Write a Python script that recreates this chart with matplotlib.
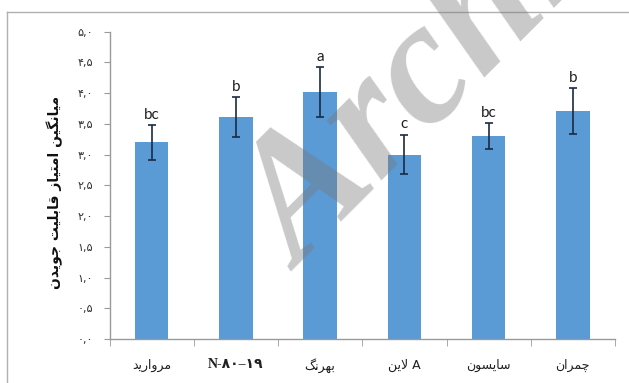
import matplotlib
matplotlib.use('Agg')
from matplotlib import pyplot as plt
from matplotlib.lines import Line2D
import numpy as np

# data
categories = ['مروارید', 'N-۸۰–۱۹', 'بهرنگ', 'لاین A', 'سایسون', 'چمران']
means = [3.20, 3.61, 4.02, 3.00, 3.30, 3.71]
errors = [0.28, 0.32, 0.40, 0.32, 0.21, 0.37]
letters = ['bc', 'b', 'a', 'c', 'bc', 'b']
yticks = [0.0, 0.5, 1.0, 1.5, 2.0, 2.5, 3.0, 3.5, 4.0, 4.5, 5.0]
ytick_labels = ['۰,۰', '۰,۵', '۱,۰', '۱,۵', '۲,۰', '۲,۵', '۳,۰', '۳,۵', '۴,۰', '۴,۵', '۵,۰']
ylabel = 'میانگین امتیاز قابلیت جویدن'

# minimal arabic/persian shaping (matplotlib has no complex text layout)
# forms: isolated, final, initial, medial
FORMS = {
    'ا': ('\uFE8D', '\uFE8E', None, None),
    'ب': ('\uFE8F', '\uFE90', '\uFE91', '\uFE92'),
    'ت': ('\uFE95', '\uFE96', '\uFE97', '\uFE98'),
    'ج': ('\uFE9D', '\uFE9E', '\uFE9F', '\uFEA0'),
    'چ': ('\uFB7A', '\uFB7B', '\uFB7C', '\uFB7D'),
    'د': ('\uFEA9', '\uFEAA', None, None),
    'ر': ('\uFEAD', '\uFEAE', None, None),
    'ز': ('\uFEAF', '\uFEB0', None, None),
    'س': ('\uFEB1', '\uFEB2', '\uFEB3', '\uFEB4'),
    'ق': ('\uFED5', '\uFED6', '\uFED7', '\uFED8'),
    'گ': ('\uFB92', '\uFB93', '\uFB94', '\uFB95'),
    'ل': ('\uFEDD', '\uFEDE', '\uFEDF', '\uFEE0'),
    'م': ('\uFEE1', '\uFEE2', '\uFEE3', '\uFEE4'),
    'ن': ('\uFEE5', '\uFEE6', '\uFEE7', '\uFEE8'),
    'ه': ('\uFEE9', '\uFEEA', '\uFEEB', '\uFEEC'),
    'و': ('\uFEED', '\uFEEE', None, None),
    'ی': ('\uFBFC', '\uFBFD', '\uFBFE', '\uFBFF'),
    'لا': ('\uFEFB', '\uFEFC', None, None),
}


def shape_word(w):
    if not any(c in FORMS for c in w):
        return w
    toks = []
    i = 0
    while i < len(w):
        if w[i] == 'ل' and i + 1 < len(w) and w[i + 1] == 'ا':
            toks.append('لا')
            i += 2
        else:
            toks.append(w[i])
            i += 1
    out = []
    for k, t in enumerate(toks):
        if t not in FORMS:
            out.append(t)
            continue
        f = FORMS[t]
        prev = toks[k - 1] if k > 0 else None
        nxt = toks[k + 1] if k + 1 < len(toks) else None
        jp = prev in FORMS and FORMS[prev][2] is not None
        jn = f[2] is not None and nxt in FORMS
        if jp and jn:
            out.append(f[3])
        elif jp:
            out.append(f[1])
        elif jn:
            out.append(f[2])
        else:
            out.append(f[0])
    return ''.join(reversed(out))


def farsi(text, rtl=True):
    words = [shape_word(w) for w in text.split(' ')]
    if rtl:
        words = words[::-1]
    return ' '.join(words)


def main():
    W, H = 629, 383
    fig = plt.figure(figsize=(W / 100, H / 100), dpi=100)
    fig.patch.set_facecolor('white')

    # outer frame of the chart area (cut by the image on right/bottom)
    fig.add_artist(Line2D([7 / W, 7 / W], [0, 1 - 12 / H], color='#b0b0b0', lw=1.0))
    fig.add_artist(Line2D([7 / W, 1], [1 - 12 / H, 1 - 12 / H], color='#b0b0b0', lw=1.0))

    ax = fig.add_axes([109.5 / W, 1 - 339 / H, (615 - 109.5) / W, (339 - 31.7) / H])
    x = np.arange(len(categories))

    ax.bar(x, means, width=0.40, color='#5b9bd5', zorder=2)
    ax.errorbar(x, means, yerr=errors, fmt='none', ecolor='#1c2a44',
                elinewidth=1.2, capsize=3, capthick=1.2, zorder=3)

    for xi, m, e, lab in zip(x, means, errors, letters):
        ax.annotate(lab, (xi, m + e), xytext=(0, 2.5), textcoords='offset points',
                    ha='center', va='bottom', fontsize=11, family='Lato',
                    color='#202020')

    ax.set_xlim(-0.5, len(categories) - 0.5)
    ax.set_ylim(0, 5)

    for s in ['top', 'right']:
        ax.spines[s].set_visible(False)
    for s in ['left', 'bottom']:
        ax.spines[s].set_color('#9a9a9a')
        ax.spines[s].set_linewidth(1.0)

    ax.set_yticks(yticks)
    ax.set_yticklabels(ytick_labels, family='DejaVu Sans', fontsize=8, color='#303030')
    ax.tick_params(axis='y', length=4, color='#9a9a9a', pad=8)

    ax.set_xticks(x)
    xl = [farsi(c, rtl=False) for c in categories]
    ax.set_xticklabels(xl, fontsize=9, color='#202020')
    for t in ax.get_xticklabels():
        if 'N' in t.get_text():
            t.set_family(['Liberation Serif', 'DejaVu Sans'])
            t.set_weight('bold')
            t.set_fontsize(10)
        else:
            t.set_family('DejaVu Sans')
    ax.tick_params(axis='x', length=0, pad=14)
    ax.set_xticks(np.arange(-0.5, len(categories)), minor=True)
    ax.tick_params(axis='x', which='minor', length=5, color='#9a9a9a')

    fig.text(55 / W, 1 - 192 / H, farsi(ylabel), rotation=90, ha='center', va='center',
             fontsize=10, weight='bold', family='DejaVu Sans', color='#101010')

    # watermark
    fig.text(300 / W, 1 - 272 / H, 'Archive', rotation=45, rotation_mode='anchor',
             ha='left', va='baseline', fontsize=126, family='Liberation Serif',
             style='italic', weight='bold', color='#777777', alpha=0.4, zorder=10)

    plt.savefig('out.png', dpi=100)


if __name__ == "__main__":
    main()
